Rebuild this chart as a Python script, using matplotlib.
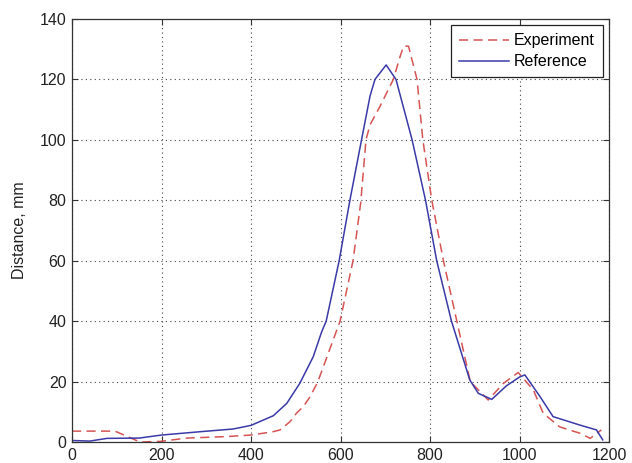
import matplotlib
matplotlib.use("Agg")
import matplotlib.pyplot as plt
import numpy as np

plt.rcParams['font.family'] = ['Liberation Sans', 'DejaVu Sans']

ref_x = [0, 40, 78, 150, 200, 286, 360, 400, 450, 480, 509, 539, 558, 568, 597,
         621, 647, 666, 677, 702, 724, 760, 790, 815, 848, 889, 908, 938, 970,
         1000, 1012, 1046, 1075, 1135, 1172, 1186]
ref_y = [0.5, 0.3, 1.2, 1.3, 2.3, 3.4, 4.3, 5.5, 8.7, 12.8, 19.4, 28.2, 36.5, 40, 60,
         80, 100, 114.5, 120, 124.8, 120, 100, 80, 60, 40, 20.5, 16.1, 14.1, 18.5,
         21.5, 22.2, 15, 8.4, 5.6, 4, 0.7]

exp_x = [0, 96, 152, 197, 257, 346, 400, 449, 465, 487, 502, 517, 532, 549, 599,
         628, 645, 657, 666, 688, 718, 733, 741, 752, 771, 784, 804, 830, 860,
         890, 930, 964, 997, 1031, 1053, 1090, 1135, 1158, 1183]
exp_y = [3.6, 3.6, 0, 0.2, 1.3, 1.8, 2.3, 3.4, 4, 6.7, 9.6, 11.7, 15, 19.8, 40,
         60, 79, 100, 105, 111, 120, 127.5, 131, 131, 120, 100, 80, 60, 40,
         20, 13.9, 19.4, 23, 17.2, 9.5, 5, 2.9, 1.2, 4]

xticks = [0, 200, 400, 600, 800, 1000, 1200]
yticks = [0, 20, 40, 60, 80, 100, 120, 140]

fig = plt.figure(figsize=(6.32, 4.63), dpi=100)
ax = fig.add_axes([72/632, 21/463, 537/632, 423/463])

ax.plot(exp_x, exp_y, color='#d65454', linestyle=(0, (6, 3.5)), linewidth=1.1, label='Experiment')
ax.plot(ref_x, ref_y, color='#3a3aa8', linestyle='-', linewidth=1.1, label='Reference')

ax.set_xlim(0, 1200)
ax.set_ylim(0, 140)
ax.set_xticks(xticks)
ax.set_yticks(yticks)
ax.tick_params(direction='in', top=True, right=True, labelsize=11.5, length=4,
               color='#333333', labelcolor='#222222', pad=4)
ax.grid(True, color='#444444', linestyle=(0, (1, 3)), linewidth=0.8)
for s in ax.spines.values():
    s.set_color('#333333')
    s.set_linewidth(0.9)

ax.set_ylabel('Distance, mm', fontsize=11.5, labelpad=9, color='#222222')

leg = ax.legend(loc='upper right', fontsize=11.5, fancybox=False, framealpha=1,
                edgecolor='#222222', borderaxespad=0.4, handlelength=3.1,
                borderpad=0.5, labelspacing=0.38, handletextpad=0.3)
leg.get_frame().set_linewidth(0.9)

fig.savefig('out.png', dpi=100)
